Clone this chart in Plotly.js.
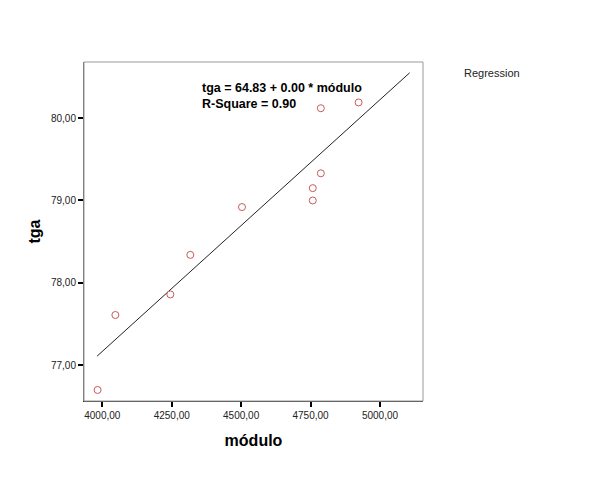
<!DOCTYPE html>
<html>
<head>
<meta charset="utf-8">
<script src="https://cdn.plot.ly/plotly-3.0.1.min.js"></script>
<style>html,body{margin:0;padding:0;background:#fff;}</style>
</head>
<body>
<div id="chart" style="width:603px;height:481px;"></div>
<script>
// Observed data (módulo vs tga)
var modulo = [3983, 4047, 4245, 4317, 4503, 4758, 4758, 4787, 4787, 4923];
var tga    = [76.70, 77.61, 77.86, 78.34, 78.92, 79.00, 79.15, 79.33, 80.12, 80.19];

// Regression line endpoints
var fitX = [3981, 5107];
var fitY = [77.11, 80.55];

// Tick labels
var xTickVals = [4000, 4250, 4500, 4750, 5000];
var xTickText = ["4000,00", "4250,00", "4500,00", "4750,00", "5000,00"];
var yTickVals = [77, 78, 79, 80];
var yTickText = ["77,00", "78,00", "79,00", "80,00"];

var traces = [
  {
    x: fitX, y: fitY, mode: "lines", type: "scatter",
    line: {color: "#222222", width: 1}, hoverinfo: "skip", showlegend: false
  },
  {
    x: modulo, y: tga, mode: "markers", type: "scatter",
    marker: {symbol: "circle-open", size: 7, color: "#c85a5a", line: {width: 1}},
    showlegend: false
  }
];

var layout = {
  width: 603, height: 481,
  margin: {l: 84, r: 180, t: 62, b: 80, pad: 0},
  paper_bgcolor: "#ffffff", plot_bgcolor: "#ffffff",
  showlegend: false,
  font: {family: "Liberation Sans, Arial, sans-serif", color: "#111"},
  xaxis: {
    range: [3934, 5155], tickmode: "array", tickvals: xTickVals, ticktext: xTickText,
    showgrid: false, zeroline: false, showline: true, linecolor: "#333", linewidth: 1,
    ticks: "outside", ticklen: 5, tickwidth: 2, tickcolor: "#000",
    tickfont: {size: 10, color: "#222"},
    title: {text: "<b>módulo</b>", font: {family: "Liberation Sans, Arial, sans-serif", size: 16, color: "#000"}, standoff: 14}
  },
  yaxis: {
    range: [76.566, 80.681], tickmode: "array", tickvals: yTickVals, ticktext: yTickText,
    showgrid: false, zeroline: false, showline: true, linecolor: "#666", linewidth: 1,
    ticks: "outside", ticklen: 5, tickwidth: 2, tickcolor: "#000",
    tickfont: {size: 10, color: "#222"},
    title: {text: "<b>tga</b>", font: {family: "Liberation Sans, Arial, sans-serif", size: 16, color: "#000"}, standoff: 6}
  },
  shapes: [
    {type: "rect", xref: "paper", yref: "paper", x0: 0, x1: 1, y0: 0, y1: 1,
     line: {color: "#999", width: 1}, fillcolor: "rgba(0,0,0,0)", layer: "above"}
  ],
  annotations: [
    {xref: "paper", yref: "paper", x: (200 - 84) / 339, y: (401 - 88) / 339,
     xanchor: "left", yanchor: "middle", showarrow: false, align: "left",
     text: "<b>tga = 64.83 + 0.00 * módulo</b>",
     font: {family: "Liberation Sans, Arial, sans-serif", size: 12.5, color: "#000"}},
    {xref: "paper", yref: "paper", x: (200 - 84) / 339, y: (401 - 104) / 339,
     xanchor: "left", yanchor: "middle", showarrow: false, align: "left",
     text: "<b>R-Square = 0.90</b>",
     font: {family: "Liberation Sans, Arial, sans-serif", size: 12.5, color: "#000"}},
    {xref: "paper", yref: "paper", x: (462 - 84) / 339, y: (401 - 73) / 339,
     xanchor: "left", yanchor: "middle", showarrow: false,
     text: "Regression",
     font: {family: "Liberation Sans, Arial, sans-serif", size: 11, color: "#222"}}
  ]
};

Plotly.newPlot("chart", traces, layout, {displayModeBar: false, staticPlot: true});
</script>
</body>
</html>
